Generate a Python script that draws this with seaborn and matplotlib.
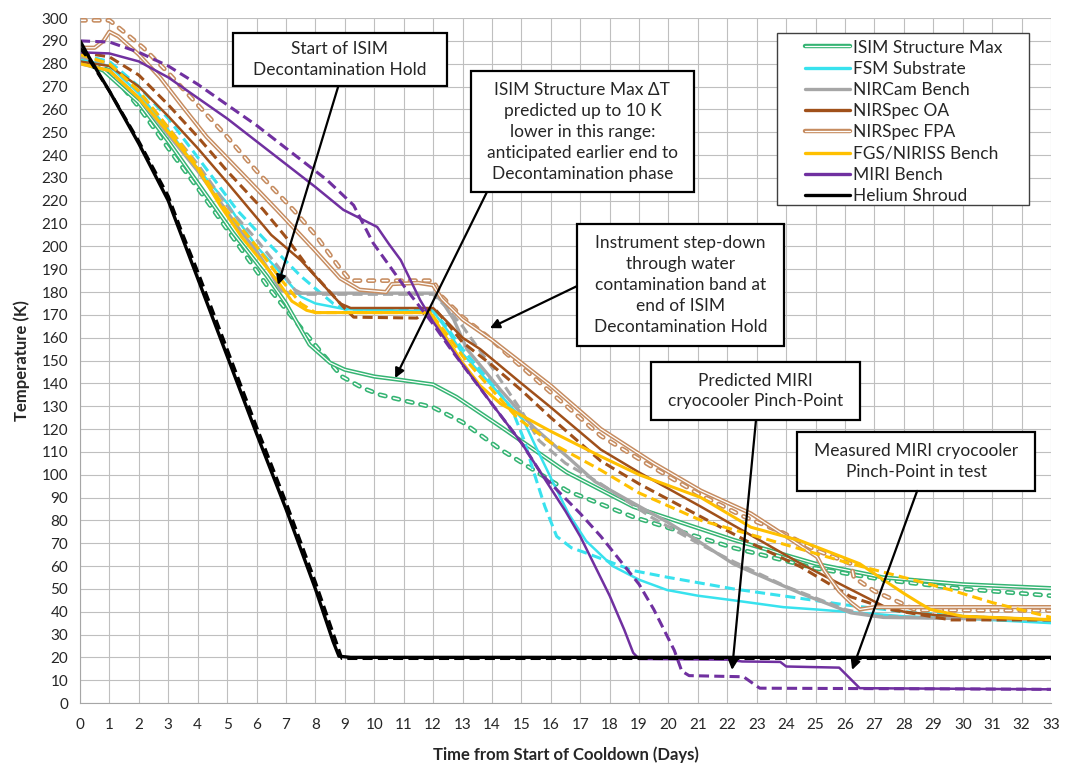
import matplotlib
matplotlib.use('Agg')
import matplotlib.pyplot as plt
import matplotlib.patheffects as pe
from matplotlib.lines import Line2D
from matplotlib.patches import Rectangle
import seaborn as sns

# =============================================================================
# Data
# =============================================================================

# ISIM Structure Max
isim_x = [0, 0.8, 2, 3, 4.1, 5.2, 6.35, 7, 7.8, 8.5, 9, 10, 10.9, 12, 12.8, 14.3, 16.55, 18.8, 22.2, 25, 27.3, 30, 33]
isim_y = [281, 277, 263, 246, 226, 206, 187, 175, 157, 149, 146, 143, 141.5, 139.5, 134, 121, 101, 86, 71.5, 61, 55, 52, 50.3]
isim_pred_x = [0, 1, 2, 3, 4.2, 5.3, 6.4, 7.4, 8.3, 8.9, 9.6, 10.2, 11, 12, 13, 14.3, 16.55, 18.8, 22.2, 25, 27.3, 30, 33]
isim_pred_y = [282, 277, 261, 243, 222, 202, 182, 166, 152, 143, 138, 135, 132.5, 129.5, 123, 111, 93, 81.5, 68, 59, 54, 50, 47]

# FSM Substrate
fsm_x = [0, 1, 2, 3, 4, 5, 5.5, 6, 6.7, 7.5, 8, 8.6, 9, 12, 12.5, 13, 14, 15.06, 15.5, 16.1, 16.6, 17.2, 18.1, 19, 19.95, 21, 22.2, 23.9, 25, 26, 27, 28, 30, 33]
fsm_y = [282, 279, 267, 251, 234, 219, 209, 200, 190, 178, 175, 173.5, 172.5, 171.5, 163, 153, 139, 124, 112, 96, 83, 71, 60, 54, 49.5, 47, 45, 42, 41, 40, 39, 38, 37, 35]
fsm_pred_x = [0, 1, 2, 3, 4, 5.33, 6.35, 7.5, 8.6, 9, 12, 12.5, 13, 14, 14.7, 15.1, 15.4, 15.8, 16.2, 16.7, 17.2, 18.8, 20, 22.2, 24.4, 26, 28, 30, 33]
fsm_pred_y = [284, 281, 270, 256, 239, 216, 202, 187, 175, 172.5, 172, 164, 155, 140, 128, 115, 102, 86, 73, 68, 65.7, 58, 55, 50, 46, 43, 40, 38, 36]

# NIRCam Bench
nircam_x = [0, 1, 2, 3, 4, 4.9, 5.5, 6, 6.5, 6.8, 7.1, 12, 12.3, 12.7, 13.15, 14.3, 15.4, 16.55, 17.5, 18.8, 20, 21, 22.2, 22.8, 24.5, 26.2, 27.3, 30, 33]
nircam_y = [280, 277, 265, 249, 233, 217, 206, 198, 188, 181, 179.5, 179.5, 176, 168, 155, 137, 121, 108, 97, 87.6, 79, 71, 61, 57.5, 48, 39.5, 37.5, 37, 36.5]
nircam_pred_x = [0, 1, 2, 3, 4, 5.1, 6, 6.8, 7.3, 7.6, 12, 12.4, 13, 14, 15, 15.6, 16.5, 17.7, 19.4, 21, 22.2, 24, 26, 27, 30, 33]
nircam_pred_y = [283, 280, 268, 252, 236, 216, 203, 190, 181, 179, 179, 174, 165, 147, 128, 115, 105, 96, 81.5, 70, 62, 51, 41, 38, 37, 36.5]

# NIRSpec OA
oa_x = [0, 1, 2, 3, 4, 5, 5.78, 6.5, 7.5, 8.84, 9.2, 12, 12.4, 13, 13.6, 15, 16, 17.7, 19, 21.1, 22.8, 24.5, 26, 27.3, 28, 29.1, 31, 33]
oa_y = [281, 279, 270, 257, 243, 228, 216, 205, 194, 175, 173, 173, 168, 160, 155, 140, 129.5, 111, 101, 86, 73.5, 61, 51, 42.5, 40, 38.5, 37.5, 36.5]
oa_pred_x = [0, 1, 2, 3, 4, 5, 6.23, 7, 7.8, 8.95, 9.3, 11.45, 11.8, 12.1, 12.5, 13, 14, 15, 16, 17.7, 19, 21.1, 22.8, 24.5, 26.2, 27.5, 29.6, 33]
oa_pred_y = [285, 283, 275, 262, 248, 233, 216, 204, 190, 173.5, 169, 168.6, 172, 172, 166, 158, 148, 137, 125, 106, 96, 81.6, 70, 59.6, 46.5, 41, 36.4, 36.4]

# NIRSpec FPA
fpa_x = [0, 0.5, 0.8, 1.0, 1.3, 2, 2.72, 3.5, 4.3, 5.5, 6.69, 8, 8.84, 9.5, 10.4, 10.6, 11.5, 12, 12.3, 13, 14, 14.5, 16, 17.7, 19.5, 21.1, 22.8, 24, 25.05, 25.3, 25.8, 26.2, 26.5, 27, 33]
fpa_y = [287, 287, 290, 294, 292, 284, 274, 261, 248, 232, 216, 198, 186, 181, 180, 183.5, 184, 183, 177, 168, 159, 154, 139, 120, 105, 93, 83, 73, 64, 58, 49, 44, 41, 42, 42]
fpa_pred_x = [0, 1.0, 1.2, 2.15, 3, 4, 5, 6, 7.25, 8, 8.8, 9.2, 12, 12.3, 13, 14, 14.5, 16, 17.7, 19.5, 21.1, 22.5, 23.9, 25, 26.2, 26.3, 27, 27.9, 28.4, 33]
fpa_pred_y = [299, 299, 297, 287, 276, 262, 248, 233, 216, 205, 191, 185, 185, 178, 169, 159, 153, 136, 117, 103, 91, 82, 74.5, 67, 61, 55, 49, 43.8, 40.7, 40.5]

# FGS/NIRISS Bench
fgs_x = [0, 1, 2, 3, 4, 4.76, 5.5, 6.2, 6.7, 7.2, 7.7, 8, 11.9, 12.5, 13, 13.6, 14.3, 15, 16, 17.7, 19, 21.1, 22.8, 24.5, 25.5, 26.5, 27.3, 28, 28.5, 28.9, 30, 33]
fgs_y = [280, 277, 265, 250, 234, 218, 204, 193, 185, 176, 172, 171, 171, 159, 149, 139, 131, 126, 119, 108, 100, 90, 77, 71, 66, 61, 54, 48, 44, 41, 38, 36.5]
fgs_pred_x = [0, 1, 2, 3, 4, 4.9, 6, 6.8, 7.5, 8, 11.9, 12.5, 13, 13.6, 14.85, 16, 17.7, 19, 21.1, 23, 25, 26.2, 28, 29.6, 31, 33]
fgs_pred_y = [284, 280, 268, 252, 235, 217, 200, 186, 175, 171, 171, 161, 152, 143, 125, 114, 102, 92, 80, 73, 65.5, 61, 55, 49.5, 44, 37.5]

# MIRI Bench
miri_x = [0, 1, 2, 3, 4, 5, 6.2, 7, 8, 8.95, 10.1, 10.5, 10.9, 11.56, 12, 12.9, 14, 15, 15.7, 16.5, 17, 18, 18.5, 18.8, 19, 22, 22.5, 23.8, 24.0, 25.8, 26.5, 33]
miri_y = [285, 284.5, 281, 274, 265, 256, 244, 236, 226, 216, 208.5, 201, 194, 176.5, 167, 150, 131, 114, 100, 84, 73, 47, 32, 22, 19.3, 19, 18.2, 18, 16, 15.5, 6.5, 6]
miri_pred_x = [0, 1, 2, 3, 4, 5, 6, 7, 8, 8.4, 9.3, 9.96, 11.1, 12, 12.6, 14, 15, 15.7, 17, 17.7, 19, 19.5, 20.2, 20.45, 20.7, 22.55, 23.1, 33]
miri_pred_y = [290, 289.5, 285, 279, 271, 262, 253, 243, 233, 229, 218, 201.5, 181, 166, 155, 131, 114, 100, 83, 73, 52, 41, 23, 14, 12, 11.5, 6.5, 6]

# Helium Shroud
he_x = [0, 0.3, 1, 2, 3, 3.5, 4, 5, 6, 7, 8, 8.6, 8.8, 9.2, 33]
he_y = [290, 283, 268, 245, 220, 203, 186, 152, 118, 85, 50, 27, 20.5, 20, 20]
he_pred_x = [0, 0.3, 1, 2, 3, 3.5, 4, 5, 6, 7, 8, 8.7, 8.9, 9.2, 33]
he_pred_y = [287, 282, 268, 246, 222, 205, 189, 155, 121, 88, 53, 27, 19.5, 19.5, 19.5]

labels = ['ISIM Structure Max', 'FSM Substrate', 'NIRCam Bench', 'NIRSpec OA',
          'NIRSpec FPA', 'FGS/NIRISS Bench', 'MIRI Bench', 'Helium Shroud']
colors = ['#35B473', '#38E2EE', '#A6A6A6', '#A0501A',
          '#C68C60', '#FFC000', '#7030A0', '#000000']
outlined = [True, False, False, False, True, False, False, False]

# =============================================================================
# Plot
# =============================================================================
sns.set_style('white')
plt.rcParams['font.family'] = ['Lato', 'DejaVu Sans']

fig = plt.figure(figsize=(10.68, 7.68), dpi=100)
ax = fig.add_axes([0.0749, 0.0846, 0.9092, 0.8919])

OUT_LW = 3.4   # outer width of the outlined ("double") lines
IN_LW = 1.1    # white core
DASH_ON, DASH_OFF = 4.0, 6.0   # points, for the outlined dashed lines


def draw(xs, ys, color, dashed=False, outline=False, lw=1.6):
    if outline and dashed:
        # outlined dashes -> coloured round-capped dash with a white round-capped core
        sns.lineplot(x=xs, y=ys, ax=ax, color=color, estimator=None, sort=False)
        outer = ax.lines[-1]
        outer.set_linewidth(OUT_LW)
        outer.set_dashes((DASH_ON / OUT_LW, DASH_OFF / OUT_LW))
        outer.set_dash_capstyle('round')
        sns.lineplot(x=xs, y=ys, ax=ax, color='white', estimator=None, sort=False)
        inner = ax.lines[-1]
        inner.set_linewidth(IN_LW)
        inner.set_dashes((DASH_ON / IN_LW, DASH_OFF / IN_LW))
        inner.set_dash_capstyle('round')
        return
    sns.lineplot(x=xs, y=ys, ax=ax, color=color, estimator=None, sort=False)
    line = ax.lines[-1]
    if outline:
        line.set_color('white')
        line.set_linewidth(IN_LW * 0.8)
        line.set_path_effects([pe.Stroke(linewidth=OUT_LW * 0.9, foreground=color), pe.Normal()])
    else:
        line.set_linewidth(lw)
        if dashed:
            line.set_dashes((3.3, 1.7))


series = [
    (isim_x, isim_y, isim_pred_x, isim_pred_y),
    (fsm_x, fsm_y, fsm_pred_x, fsm_pred_y),
    (nircam_x, nircam_y, nircam_pred_x, nircam_pred_y),
    (oa_x, oa_y, oa_pred_x, oa_pred_y),
    (fpa_x, fpa_y, fpa_pred_x, fpa_pred_y),
    (fgs_x, fgs_y, fgs_pred_x, fgs_pred_y),
    (miri_x, miri_y, miri_pred_x, miri_pred_y),
    (he_x, he_y, he_pred_x, he_pred_y),
]
solid_lw = [1.6, 1.8, 2.4, 1.8, 1.6, 2.2, 1.8, 2.4]

for (mx, my, px, py), c, o, w in zip(series, colors, outlined, solid_lw):
    draw(px, py, c, dashed=True, outline=o, lw=2.2)
    draw(mx, my, c, dashed=False, outline=o, lw=w)

ax.set_xlim(0, 33)
ax.set_ylim(0, 300)
ax.set_xticks(range(0, 34))
ax.set_yticks(range(0, 301, 10))
ax.grid(True, color='#BFBFBF', lw=0.8)
ax.set_axisbelow(True)
for s in ['top', 'right']:
    ax.spines[s].set_visible(False)
for s in ['left', 'bottom']:
    ax.spines[s].set_color('#A6A6A6')
ax.tick_params(axis='both', direction='out', length=5, color='#A6A6A6', labelsize=11)
ax.tick_params(axis='x', pad=6)
ax.set_xlabel('Time from Start of Cooldown (Days)', fontsize=12, fontweight='bold', labelpad=10)
ax.set_ylabel('Temperature (K)', fontsize=12, fontweight='bold', labelpad=8)

# Legend: frame drawn as a plain rectangle, entries placed inside it
ax.add_patch(Rectangle((0.7178, 0.7270), 0.2595, 0.2511, transform=ax.transAxes,
                       facecolor='white', edgecolor='#404040', lw=1.0, zorder=9))
handles = []
for c, o in zip(colors, outlined):
    if o:
        h = Line2D([0], [0], color='white', lw=0.9,
                   path_effects=[pe.Stroke(linewidth=3.2, foreground=c), pe.Normal()])
    else:
        h = Line2D([0], [0], color=c, lw=2.4)
    handles.append(h)
leg = ax.legend(handles, labels, loc='upper left', bbox_to_anchor=(0.7467, 0.9686),
                fontsize=12.5, frameon=False, handlelength=2.6, labelspacing=0.3,
                borderpad=0, borderaxespad=0, handletextpad=0.15)
leg.set_zorder(10)

# Annotation boxes: (x0, y0, x1, y1, text)
notes = [
    (5.19, 270.2, 12.46, 293.3, 'Start of ISIM\nDecontamination Hold'),
    (13.28, 223.6, 20.87, 276.9, 'ISIM Structure Max \u0394T\npredicted up to 10 K\nlower in this range:\n'
                                 'anticipated earlier end to\nDecontamination phase'),
    (16.9, 156.4, 23.93, 209.8, 'Instrument step-down\nthrough water\ncontamination band at\n'
                               'end of ISIM\nDecontamination Hold'),
    (19.41, 124.0, 26.51, 149.3, 'Predicted MIRI\ncryocooler Pinch-Point'),
    (24.38, 92.9, 32.46, 118.8, 'Measured MIRI cryocooler\nPinch-Point in test'),
]
for x0, y0, x1, y1, t in notes:
    ax.add_patch(Rectangle((x0, y0), x1 - x0, y1 - y0, facecolor='white',
                           edgecolor='black', lw=1.6, zorder=8))
    ax.text((x0 + x1) / 2, (y0 + y1) / 2, t, ha='center', va='center',
            fontsize=12.5, linespacing=1.38, zorder=9)

arrows = [
    ((8.77, 269.8), (6.73, 183.1)),
    ((13.83, 223.8), (10.71, 142.3)),
    ((16.89, 182.6), (13.93, 164.2)),
    ((22.97, 123.5), (22.16, 14.5)),
    ((28.45, 92.9), (26.24, 14.5)),
]
for start, tip in arrows:
    ax.annotate('', xy=tip, xytext=start, zorder=9,
                arrowprops=dict(arrowstyle='-|>', color='black', lw=1.6,
                                mutation_scale=14, shrinkA=0, shrinkB=0))

plt.savefig('out.png', dpi=100)
